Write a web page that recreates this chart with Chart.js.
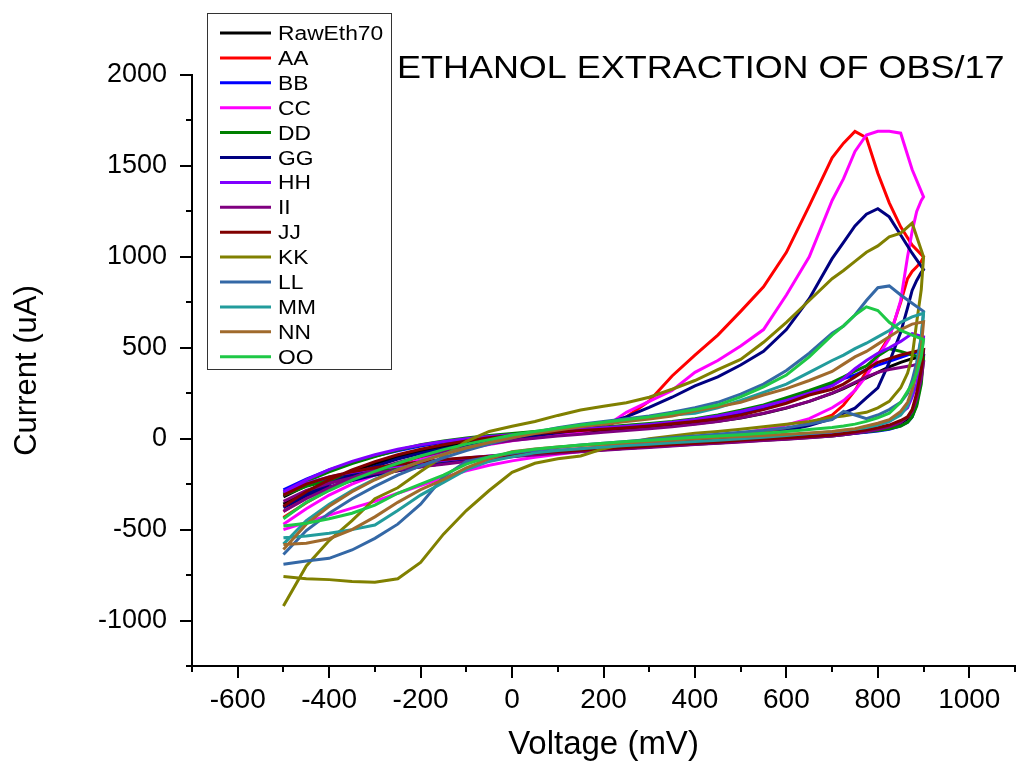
<!DOCTYPE html>
<html>
<head>
<meta charset="utf-8">
<title>Ethanol extraction of OBS/17</title>
<script src="https://cdn.jsdelivr.net/npm/chart.js@4.4.1/dist/chart.umd.min.js"></script>
<style>
  body { margin: 0; background: #fff; }
  canvas { display: block; }
</style>
</head>
<body>
<canvas id="cvChart" width="1018" height="767"></canvas>
<script>
// Sweep potentials (mV): forward scan -500 -> 900, then reverse scan back to -500
const forwardV = [-500, -450, -400, -350, -300, -250, -200, -150, -100, -50,
  0, 50, 100, 150, 200, 250, 300, 350, 400, 450,
  500, 550, 600, 650, 700,
  725, 750, 775, 800, 825, 850, 875, 900];
const reverseV = [895, 885, 875, 865, 850,
  825, 800, 775, 750, 725, 700,
  650, 600, 550, 500, 450, 400, 350, 300, 250, 200,
  150, 100, 50, 0, -50, -100, -150, -200, -250, -300,
  -350, -400, -450, -500];
const sweepV = forwardV.concat(reverseV);

// Current (uA) read at each sweep point, forward values first
const rawEth70 = [-360, -290, -232, -180, -138, -100, -70, -44, -22, -5,
  8, 18, 27, 35, 43, 51, 60, 70, 82, 96,
  114, 138, 168, 205, 250,
  275, 305, 335, 365, 395, 420, 440, 455,
  360, 230, 150, 110, 85,
  62, 48, 38, 30, 22, 15,
  6, -2, -9, -16, -24, -31, -38, -45, -53, -61,
  -69, -77, -86, -95, -104, -114, -125, -138, -152, -170,
  -192, -220, -258, -320];
const aa = [-434, -352, -282, -226, -180, -140, -100, -66, -40, -16,
  5, 20, 36, 50, 62, 120, 207, 345, 460, 570,
  700, 835, 1025, 1280, 1545,
  1625, 1690, 1655, 1460, 1297, 1165, 1065, 1000,
  975, 945, 920, 880, 750,
  560, 460, 370, 265, 185, 130,
  85, 55, 35, 20, 5, -5, -15, -25, -35, -45,
  -55, -66, -78, -90, -104, -120, -137, -155, -176, -200,
  -230, -268, -320, -400];
const bb = [-282, -222, -172, -130, -96, -66, -40, -20, -5, 8,
  20, 31, 41, 50, 58, 66, 75, 85, 100, 118,
  140, 172, 210, 255, 300,
  330, 350, 380, 405, 425, 448, 470, 485,
  330, 190, 120, 90, 70,
  52, 42, 35, 30, 25, 20,
  12, 4, -4, -12, -20, -28, -36, -44, -52, -60,
  -68, -76, -84, -92, -102, -114, -128, -145, -163, -183,
  -205, -228, -255, -290];
const cc = [-470, -385, -310, -250, -200, -155, -115, -80, -55, -32,
  -12, 5, 20, 38, 60, 145, 205, 265, 365, 430,
  510, 600, 790, 1000, 1310,
  1430, 1580, 1670, 1690, 1690, 1680, 1480, 1330,
  1310, 1250, 1140, 1000, 760,
  550, 450, 345, 265, 210, 170,
  110, 75, 50, 30, 12, -2, -15, -28, -40, -55,
  -70, -86, -102, -122, -146, -176, -214, -258, -300, -345,
  -382, -420, -460, -500];
const dd = [-305, -235, -182, -137, -98, -63, -33, -12, 4, 17,
  29, 39, 48, 56, 65, 74, 84, 95, 110, 130,
  156, 186, 225, 265, 310,
  340, 372, 400, 455, 495, 480, 460, 445,
  300, 180, 120, 90, 70,
  55, 45, 38, 32, 27, 22,
  12, 4, -4, -12, -20, -27, -34, -42, -50, -58,
  -66, -75, -85, -96, -108, -120, -135, -150, -166, -185,
  -205, -230, -262, -312];
const gg = [-375, -305, -248, -197, -152, -112, -80, -55, -35, -15,
  2, 16, 32, 48, 80, 120, 172, 228, 290, 340,
  405, 480, 600, 770, 990,
  1080, 1170, 1235, 1265, 1220, 1120, 1020, 930,
  915, 870, 815, 720, 585,
  420, 280, 225, 168, 140, 110,
  72, 45, 25, 10, -2, -12, -22, -32, -42, -52,
  -62, -72, -82, -93, -105, -120, -136, -155, -176, -200,
  -230, -266, -312, -380];
const hh = [-292, -226, -170, -125, -88, -58, -34, -15, 0, 12,
  22, 32, 42, 52, 60, 68, 78, 90, 105, 125,
  150, 178, 210, 250, 290,
  330, 385, 430, 470, 500, 535, 578, 560,
  450, 300, 230, 170, 140,
  95, 75, 60, 50, 42, 36,
  25, 15, 5, -3, -11, -18, -25, -32, -40, -48,
  -56, -65, -74, -84, -95, -106, -118, -132, -148, -165,
  -185, -210, -245, -295];
const ii = [-400, -330, -270, -215, -170, -130, -98, -70, -48, -28,
  -10, 3, 15, 25, 35, 45, 55, 66, 80, 95,
  115, 140, 170, 205, 250,
  280, 310, 340, 365, 380, 392, 402, 420,
  330, 220, 150, 118, 90,
  65, 50, 40, 30, 22, 15,
  5, -3, -10, -18, -25, -32, -40, -48, -56, -64,
  -72, -80, -90, -100, -112, -125, -140, -155, -172, -190,
  -215, -245, -285, -345];
const jj = [-372, -292, -226, -171, -126, -88, -58, -33, -12, 5,
  18, 28, 37, 45, 52, 60, 70, 82, 95, 110,
  130, 160, 195, 240, 272,
  300, 340, 380, 420, 440, 460, 475, 490,
  380, 250, 160, 120, 100,
  75, 60, 48, 38, 28, 20,
  12, 5, -2, -8, -18, -25, -32, -40, -48, -56,
  -64, -72, -80, -88, -96, -105, -115, -128, -142, -160,
  -182, -210, -250, -310];
const kk = [-920, -700, -560, -450, -330, -270, -180, -95, -15, 40,
  68, 95, 128, 158, 178, 198, 228, 272, 320, 380,
  436, 530, 640, 760, 880,
  925, 975, 1025, 1060, 1110, 1130, 1185, 1000,
  820, 640, 450, 360, 280,
  205, 170, 145, 135, 125, 118,
  95, 80, 66, 52, 40, 30, 15, 0, -25, -55,
  -95, -110, -135, -185, -285, -395, -525, -680, -770, -790,
  -785, -775, -770, -758];
const ll = [-637, -505, -410, -330, -262, -200, -150, -105, -65, -30,
  5, 35, 60, 80, 95, 110, 125, 145, 170, 200,
  245, 300, 375, 470, 580,
  620, 680, 760, 830, 840, 790, 745, 700,
  560, 420, 320, 250, 200,
  160, 130, 110, 130, 150, 105,
  80, 60, 45, 35, 25, 15, 5, -5, -15, -25,
  -35, -48, -62, -80, -100, -125, -210, -360, -470, -548,
  -612, -658, -672, -690];
const mm = [-580, -450, -360, -285, -222, -170, -125, -85, -50, -20,
  10, 35, 55, 72, 88, 100, 115, 130, 140, 170,
  210, 255, 300, 365, 430,
  460, 495, 525, 560, 595, 640, 670, 690,
  560, 380, 260, 180, 130,
  95, 75, 62, 52, 45, 38,
  28, 18, 8, 0, -8, -15, -22, -30, -38, -46,
  -55, -65, -78, -100, -125, -170, -240, -310, -395, -475,
  -500, -520, -535, -545];
const nn = [-610, -470, -372, -292, -226, -171, -126, -86, -51, -21,
  5, 28, 48, 65, 80, 95, 108, 124, 152, 175,
  200, 240, 275, 320, 370,
  410, 450, 480, 520, 560, 600, 630, 643,
  500, 370, 270, 200, 150,
  105, 85, 70, 55, 48, 40,
  32, 25, 18, 12, 6, 0, -8, -15, -22, -30,
  -38, -46, -56, -72, -110, -160, -225, -280, -350, -430,
  -500, -550, -575, -582];
const oo = [-440, -350, -285, -228, -180, -135, -95, -60, -30, -5,
  20, 40, 58, 75, 90, 105, 120, 140, 160, 185,
  230, 285, 350, 450, 570,
  620, 680, 725, 705, 640, 595, 570, 545,
  450, 360, 300, 260, 200,
  140, 115, 95, 80, 70, 62,
  50, 40, 30, 22, 15, 8, 0, -8, -16, -25,
  -35, -45, -58, -75, -100, -140, -200, -250, -300, -365,
  -410, -440, -465, -480];

const seriesNames = ['RawEth70', 'AA', 'BB', 'CC', 'DD', 'GG', 'HH', 'II', 'JJ', 'KK', 'LL', 'MM', 'NN', 'OO'];
const seriesValues = [rawEth70, aa, bb, cc, dd, gg, hh, ii, jj, kk, ll, mm, nn, oo];
const seriesColors = ['#000000', '#ff0000', '#0000ff', '#ff00ff', '#008000', '#000080', '#8000ff',
  '#800080', '#800000', '#808000', '#3468a6', '#229c9c', '#a06a2c', '#1ec846'];

const chartTitle = 'ETHANOL EXTRACTION OF OBS/17';
const FONT = '"Liberation Sans", Arial, sans-serif';

// Plugins: tick marks (major/minor), boxed legend, title text
const axisTicks = {
  id: 'axisTicks',
  afterDraw(chart) {
    const { ctx, chartArea: area, scales: { x, y } } = chart;
    ctx.save();
    ctx.strokeStyle = '#000';
    ctx.lineWidth = 2;
    ctx.beginPath();
    x.ticks.forEach(t => {
      const px = Math.round(x.getPixelForValue(t.value));
      const len = t.value % 200 === 0 ? 12 : 6;
      ctx.moveTo(px, area.bottom);
      ctx.lineTo(px, area.bottom + len);
    });
    y.ticks.forEach(t => {
      const py = Math.round(y.getPixelForValue(t.value));
      const len = t.value % 500 === 0 ? 12 : 6;
      ctx.moveTo(area.left, py);
      ctx.lineTo(area.left - len, py);
    });
    ctx.moveTo(area.left - 6, area.bottom);
    ctx.lineTo(area.left, area.bottom);
    ctx.stroke();
    ctx.restore();
  }
};

const boxLegend = {
  id: 'boxLegend',
  afterDraw(chart) {
    const { ctx } = chart;
    ctx.save();
    ctx.fillStyle = '#fff';
    ctx.fillRect(207, 13, 184, 356);
    ctx.strokeStyle = '#333';
    ctx.lineWidth = 1;
    ctx.strokeRect(207.5, 13.5, 184, 356);
    chart.data.datasets.forEach((ds, i) => {
      const yy = 33 + i * 24.9;
      ctx.strokeStyle = ds.borderColor;
      ctx.lineWidth = 3;
      ctx.beginPath();
      ctx.moveTo(220, yy);
      ctx.lineTo(271, yy);
      ctx.stroke();
      ctx.save();
      ctx.translate(278, yy + 7);
      ctx.scale(1.14, 1);
      ctx.fillStyle = '#000';
      ctx.font = '20px ' + FONT;
      ctx.textBaseline = 'alphabetic';
      ctx.fillText(ds.label, 0, 0);
      ctx.restore();
    });
    ctx.restore();
  }
};

const titleText = {
  id: 'titleText',
  afterDraw(chart) {
    const { ctx } = chart;
    ctx.save();
    ctx.translate(397, 78);
    ctx.scale(1.16, 1);
    ctx.fillStyle = '#000';
    ctx.font = '31px ' + FONT;
    ctx.fillText(chartTitle, 0, 0);
    ctx.restore();
  }
};

new Chart(document.getElementById('cvChart'), {
  type: 'scatter',
  data: {
    datasets: seriesNames.map((name, i) => ({
      label: name,
      data: sweepV.map((v, k) => ({ x: v, y: seriesValues[i][k] })),
      borderColor: seriesColors[i],
      backgroundColor: seriesColors[i],
      borderWidth: 3,
      showLine: true,
      pointRadius: 0,
      fill: false,
      order: seriesNames.length - i
    }))
  },
  options: {
    responsive: false,
    animation: false,
    devicePixelRatio: 1,
    layout: { padding: { top: 75, right: 3, left: 0, bottom: 0 } },
    plugins: {
      legend: { display: false },
      tooltip: { enabled: false }
    },
    scales: {
      x: {
        type: 'linear',
        min: -700,
        max: 1100,
        afterFit: s => {
          s.height = 101;
          s.paddingLeft = 0;
          s.paddingRight = 0;
        },
        grid: { display: true, drawOnChartArea: false, drawTicks: false },
        border: { display: true, color: '#000', width: 2 },
        ticks: {
          stepSize: 100,
          autoSkip: false,
          maxRotation: 0,
          padding: 17,
          color: '#000',
          font: { family: FONT, size: 28 },
          callback: v => (v % 200 === 0 ? v : '')
        },
        title: {
          display: true,
          text: 'Voltage (mV)',
          color: '#000',
          font: { family: FONT, size: 33 },
          padding: { top: 0, bottom: 2 }
        }
      },
      y: {
        type: 'linear',
        min: -1250,
        max: 2000,
        afterFit: s => { s.width = 192; },
        grid: { display: true, drawOnChartArea: false, drawTicks: false },
        border: { display: true, color: '#000', width: 2 },
        ticks: {
          stepSize: 250,
          autoSkip: false,
          padding: 25,
          color: '#000',
          font: { family: FONT, size: 27 },
          callback: v => (v % 500 === 0 ? v : '')
        },
        title: {
          display: true,
          text: 'Current (uA)',
          color: '#000',
          font: { family: FONT, size: 31 },
          padding: { top: 9, bottom: 0 }
        }
      }
    }
  },
  plugins: [axisTicks, boxLegend, titleText]
});
</script>
</body>
</html>
